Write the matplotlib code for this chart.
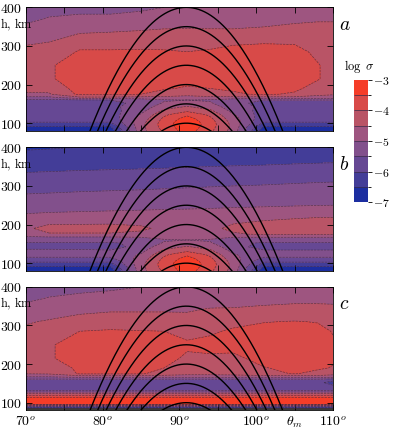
import numpy as np
import matplotlib
matplotlib.use('Agg')
import matplotlib.pyplot as plt
from matplotlib.colors import ListedColormap, BoundaryNorm

plt.rcParams['mathtext.fontset'] = 'cm'
plt.rcParams['font.family'] = 'DejaVu Serif'

# grid of log(sigma) values
theta = [70, 73, 77, 81, 85, 88, 91, 94, 97, 101, 105, 108, 110]
heights = [400, 370, 340, 310, 285, 250, 215, 190, 175, 167, 160, 152, 142, 132, 122, 112, 104, 97, 90, 80]

# each list is one column (value vs height, top to bottom) at the matching theta
sigma_a = [
    [-5.2, -5.1, -4.85, -4.55, -4.4, -4.3, -4.3, -4.4, -4.55, -5.1, -5.6, -5.75, -5.8, -5.8, -5.8, -5.8, -5.95, -6.2, -6.55, -6.85],
    [-5.15, -4.97, -4.75, -4.5, -4.35, -4.05, -4.05, -4.35, -4.55, -5.1, -5.6, -5.75, -5.8, -5.8, -5.8, -5.8, -5.95, -6.2, -6.55, -6.85],
    [-5.1, -4.93, -4.6, -4.2, -3.95, -3.8, -3.8, -3.8, -3.9, -4.55, -5.55, -5.7, -5.7, -5.75, -5.8, -5.8, -5.95, -6.2, -6.55, -6.85],
    [-5.1, -4.93, -4.55, -4.2, -3.95, -3.75, -3.75, -3.8, -3.9, -4.55, -5.5, -5.6, -5.6, -5.7, -5.75, -5.8, -5.95, -6.2, -6.55, -6.85],
    [-5.05, -4.9, -4.5, -4.15, -3.95, -3.75, -3.75, -3.85, -4.0, -4.6, -5.3, -5.4, -5.3, -5.15, -4.95, -4.8, -4.7, -4.65, -4.65, -4.7],
    [-5.0, -4.8, -4.45, -4.2, -3.95, -3.75, -3.8, -3.95, -4.2, -4.6, -5.05, -4.95, -4.7, -4.4, -4.1, -3.9, -3.8, -3.75, -3.8, -3.9],
    [-4.95, -4.75, -4.45, -4.2, -4.0, -3.8, -3.85, -4.05, -4.3, -4.7, -5.0, -4.75, -4.45, -4.1, -3.6, -3.3, -3.15, -3.1, -3.15, -3.25],
    [-4.97, -4.78, -4.45, -4.15, -3.95, -3.8, -3.85, -4.0, -4.2, -4.6, -5.05, -4.95, -4.7, -4.4, -4.1, -3.9, -3.8, -3.75, -3.8, -3.9],
    [-4.95, -4.8, -4.45, -4.05, -3.9, -3.8, -3.85, -3.95, -4.05, -4.6, -5.3, -5.4, -5.3, -5.15, -4.95, -4.8, -4.7, -4.65, -4.65, -4.7],
    [-4.9, -4.72, -4.4, -4.03, -3.85, -3.75, -3.75, -3.85, -3.95, -4.6, -5.5, -5.6, -5.6, -5.7, -5.75, -5.8, -5.95, -6.2, -6.55, -6.85],
    [-4.85, -4.6, -4.35, -4.05, -3.85, -3.75, -3.8, -3.92, -4.05, -4.6, -5.5, -5.6, -5.6, -5.7, -5.75, -5.8, -5.95, -6.2, -6.55, -6.85],
    [-4.82, -4.55, -4.35, -4.2, -4.1, -3.97, -3.97, -4.15, -4.35, -4.7, -5.5, -5.6, -5.6, -5.7, -5.75, -5.8, -5.95, -6.2, -6.55, -6.85],
    [-4.8, -4.55, -4.35, -4.25, -4.2, -4.15, -4.15, -4.3, -4.45, -4.7, -5.5, -5.6, -5.6, -5.7, -5.75, -5.8, -5.95, -6.2, -6.55, -6.85],
]

sigma_b = [
    [-6.55, -6.35, -6.05, -5.75, -5.55, -5.25, -4.85, -4.6, -4.7, -5.1, -5.3, -5.55, -5.65, -5.4, -5.3, -5.6, -5.95, -6.2, -6.55, -6.85],
    [-6.53, -6.33, -6.03, -5.73, -5.53, -5.23, -4.8, -4.3, -4.55, -5.05, -5.3, -5.55, -5.65, -5.4, -5.3, -5.6, -5.95, -6.2, -6.55, -6.85],
    [-6.5, -6.3, -6.0, -5.7, -5.5, -5.2, -4.78, -4.3, -4.55, -5.05, -5.3, -5.55, -5.7, -5.4, -5.3, -5.6, -5.95, -6.2, -6.55, -6.85],
    [-6.48, -6.28, -5.98, -5.68, -5.48, -5.18, -4.75, -4.3, -4.55, -5.05, -5.3, -5.55, -5.7, -5.45, -5.3, -5.6, -5.95, -6.2, -6.55, -6.85],
    [-6.46, -6.26, -5.96, -5.66, -5.46, -5.16, -4.72, -4.42, -4.6, -5.0, -5.3, -5.4, -5.3, -5.15, -4.95, -4.8, -4.7, -4.65, -4.65, -4.7],
    [-6.44, -6.24, -5.94, -5.64, -5.44, -5.14, -4.7, -4.6, -4.65, -4.85, -5.05, -4.95, -4.7, -4.4, -4.1, -3.9, -3.8, -3.75, -3.8, -3.9],
    [-6.42, -6.22, -5.92, -5.62, -5.42, -5.12, -4.7, -4.65, -4.7, -4.85, -5.0, -4.75, -4.45, -4.1, -3.6, -3.3, -3.15, -3.1, -3.15, -3.25],
    [-6.4, -6.2, -5.9, -5.6, -5.4, -5.1, -4.68, -4.6, -4.65, -4.85, -5.05, -4.95, -4.7, -4.4, -4.1, -3.9, -3.8, -3.75, -3.8, -3.9],
    [-6.38, -6.18, -5.88, -5.58, -5.38, -5.08, -4.62, -4.4, -4.55, -5.0, -5.3, -5.4, -5.3, -5.15, -4.95, -4.8, -4.7, -4.65, -4.65, -4.7],
    [-6.36, -6.16, -5.86, -5.56, -5.36, -5.06, -4.55, -4.3, -4.45, -5.0, -5.3, -5.55, -5.7, -5.45, -5.3, -5.6, -5.95, -6.2, -6.55, -6.85],
    [-6.33, -6.13, -5.83, -5.53, -5.33, -5.03, -4.5, -4.3, -4.42, -5.0, -5.3, -5.55, -5.7, -5.45, -5.3, -5.6, -5.95, -6.2, -6.55, -6.85],
    [-6.31, -6.11, -5.81, -5.51, -5.31, -5.01, -4.45, -4.3, -4.42, -5.0, -5.3, -5.55, -5.7, -5.45, -5.3, -5.6, -5.95, -6.2, -6.55, -6.85],
    [-6.3, -6.1, -5.8, -5.5, -5.3, -5.0, -4.45, -4.3, -4.45, -5.0, -5.3, -5.55, -5.7, -5.45, -5.3, -5.6, -5.95, -6.2, -6.55, -6.85],
]

sigma_c = [
    [-5.2, -5.08, -4.85, -4.55, -4.4, -4.3, -4.3, -4.4, -4.48, -5.0, -5.6, -5.75, -5.8, -5.55, -4.3, -3.3, -3.2, -3.3, -6.0, -9.0],
    [-5.15, -4.98, -4.75, -4.45, -4.3, -4.05, -4.05, -4.3, -4.45, -5.0, -5.6, -5.75, -5.8, -5.55, -4.3, -3.3, -3.2, -3.3, -6.0, -9.0],
    [-5.1, -4.92, -4.62, -4.3, -4.0, -3.8, -3.8, -3.9, -3.95, -4.8, -5.6, -5.75, -5.8, -5.55, -4.3, -3.3, -3.2, -3.3, -6.0, -9.0],
    [-5.05, -4.9, -4.55, -4.25, -3.95, -3.75, -3.75, -3.85, -3.95, -4.8, -5.6, -5.75, -5.8, -5.55, -4.3, -3.3, -3.2, -3.3, -6.0, -9.0],
    [-5.0, -4.85, -4.55, -4.25, -3.98, -3.8, -3.8, -3.85, -3.95, -4.8, -5.6, -5.75, -5.8, -5.55, -4.3, -3.3, -3.2, -3.3, -6.0, -9.0],
    [-4.98, -4.85, -4.55, -4.25, -4.0, -3.85, -3.9, -4.0, -4.2, -4.8, -5.6, -5.75, -5.8, -5.55, -4.3, -3.3, -3.2, -3.3, -6.0, -9.0],
    [-4.95, -4.8, -4.55, -4.3, -4.1, -3.95, -4.05, -4.2, -4.35, -4.8, -5.6, -5.75, -5.8, -5.55, -4.3, -3.3, -3.2, -3.3, -6.0, -9.0],
    [-4.92, -4.75, -4.45, -4.2, -4.05, -3.9, -4.05, -4.2, -4.35, -4.8, -5.6, -5.75, -5.8, -5.55, -4.3, -3.3, -3.2, -3.3, -6.0, -9.0],
    [-4.9, -4.7, -4.45, -4.1, -3.95, -3.85, -4.1, -4.15, -4.3, -4.8, -5.6, -5.75, -5.8, -5.55, -4.3, -3.3, -3.2, -3.3, -6.0, -9.0],
    [-4.88, -4.65, -4.4, -4.02, -3.85, -3.8, -3.85, -4.02, -4.1, -4.8, -5.6, -5.75, -5.8, -5.55, -4.3, -3.3, -3.2, -3.3, -6.0, -9.0],
    [-4.85, -4.6, -4.38, -3.98, -3.82, -3.78, -3.8, -3.9, -3.98, -4.8, -5.6, -5.75, -5.8, -5.55, -4.3, -3.3, -3.2, -3.3, -6.0, -9.0],
    [-4.85, -4.6, -4.38, -4.02, -3.88, -3.82, -3.85, -3.95, -4.1, -4.8, -5.6, -5.8, -5.8, -5.55, -4.3, -3.3, -3.2, -3.3, -6.0, -9.0],
    [-4.85, -4.6, -4.4, -4.15, -4.02, -3.95, -3.95, -4.02, -4.3, -4.85, -5.7, -6.3, -5.85, -5.55, -4.3, -3.3, -3.2, -3.3, -6.0, -9.0],
]

panel_names = ['a', 'b', 'c']
# magnetic field lines: apex heights (km) and apex position (deg)
apex_heights = [100, 150, 200, 250, 300, 350, 400]
apex_theta = 90.9
earth_radius = 6371.0

levels = [-7, -6.5, -6, -5.5, -5, -4.5, -4, -3.5, -3]
band_colors = ['#1c2ea0', '#433d98', '#664894', '#82508c',
               '#9e5580', '#b95466', '#d84a48', '#f53d28']
cmap = ListedColormap(band_colors)
norm = BoundaryNorm(levels, cmap.N)

fig = plt.figure(figsize=(3.93, 4.32), dpi=100)
ax_rects = [[0.066, 0.697, 0.781, 0.286],
            [0.066, 0.373, 0.781, 0.286],
            [0.066, 0.050, 0.781, 0.286]]

T, H = np.meshgrid(theta, heights[::-1])
lat = np.linspace(-25, 25, 501)

for i, (rect, grid) in enumerate(zip(ax_rects, [sigma_a, sigma_b, sigma_c])):
    ax = fig.add_axes(rect)
    ax.set_facecolor('#3a3a3a')
    Z = np.array(grid).T[::-1]
    cf = ax.contourf(T, H, Z, levels=levels, cmap=cmap, norm=norm)
    ax.contour(T, H, Z, levels=levels, colors='#3b2a45', linewidths=0.45, alpha=0.8)

    for ha in apex_heights:
        r = (earth_radius + ha) * np.cos(np.radians(lat)) ** 2
        ax.plot(apex_theta + lat, r - earth_radius, color='black', lw=1.0)

    ax.set_xlim(70, 110)
    ax.set_ylim(80, 400)
    ax.set_xticks(np.arange(70, 111, 5))
    ax.set_yticks([100, 200, 300, 400])
    ax.set_yticklabels([r'$100$', r'$200$', r'$300$', r'$400$'], fontsize=10)
    ax.tick_params(direction='in', top=True, right=True, length=4, width=0.6, pad=3)
    if i == 2:
        ax.set_xticklabels([r'$70^o$', '', r'$80^o$', '', r'$90^o$', '',
                            r'$100^o$', r'$\theta_m$', r'$110^o$'], fontsize=10)
    else:
        ax.set_xticklabels([])
    for s in ax.spines.values():
        s.set_linewidth(0.6)
    # axis title placed like a tick label, starting at the left edge
    ax.text(-0.085, 355, r'$\mathrm{h,\,km}$', transform=ax.get_yaxis_transform(),
            ha='left', va='center', fontsize=8.8)
    ax.text(1.02, 355, '$' + panel_names[i] + '$', transform=ax.get_yaxis_transform(),
            ha='left', va='center', fontsize=14)

cax = fig.add_axes([0.9, 0.532, 0.036, 0.283])
cb = fig.colorbar(cf, cax=cax, ticks=[-3, -4, -5, -6, -7], drawedges=True)
cb.ax.set_yticklabels([r'$-3$', r'$-4$', r'$-5$', r'$-6$', r'$-7$'], fontsize=8.5)
cb.outline.set_visible(False)
cb.dividers.set_color('#3b2a45')
cb.dividers.set_linewidth(0.5)
cb.ax.tick_params(length=3, width=0.6, pad=1)
fig.text(0.915, 0.845, r'$\log\ \sigma$', ha='center', va='center', fontsize=9)

fig.savefig('out.png', dpi=100)
